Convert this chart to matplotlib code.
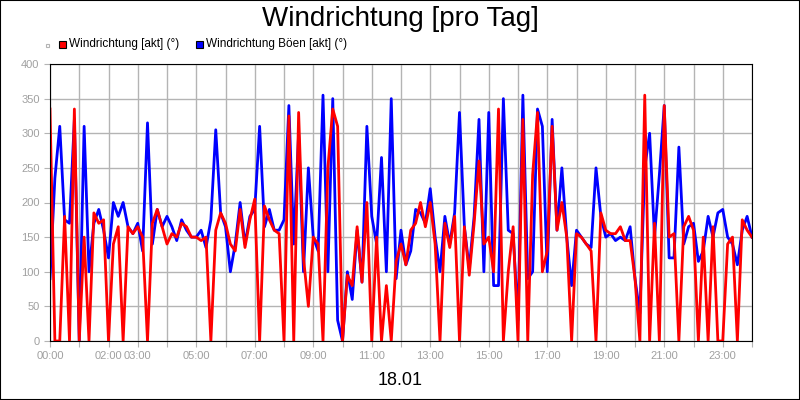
import numpy as np
import matplotlib.pyplot as plt
from matplotlib.patches import Rectangle

plt.rcParams["font.family"] = "Liberation Sans"

# 10-minute samples, 00:00 .. 24:00
wind_red = [
    335, 0, 0, 180, 0, 335,
    0, 150, 0, 185, 170, 175,
    0, 140, 165, 0, 165, 155,
    165, 150, 0, 170, 190, 165,
    140, 155, 150, 170, 165, 150,
    150, 145, 150, 0, 160, 185,
    170, 140, 130, 190, 135, 175,
    205, 0, 195, 175, 160, 155,
    0, 325, 0, 330, 120, 50,
    150, 140, 0, 250, 335, 310,
    0, 95, 80, 165, 85, 200,
    0, 150, 0, 80, 0, 115,
    140, 110, 160, 170, 200, 165,
    200, 140, 0, 170, 135, 180,
    0, 165, 95, 170, 260, 140,
    150, 100, 335, 0, 100, 165,
    0, 320, 0, 240, 330, 100,
    130, 310, 160, 200, 150, 0,
    155, 150, 140, 130, 0, 185,
    160, 155, 155, 165, 145, 145,
    90, 0, 355, 0, 170, 0,
    340, 150, 155, 0, 165, 180,
    160, 0, 150, 0, 165, 0,
    0, 140, 150, 0, 175, 160,
    150,
]
wind_blue = [
    90, 235, 310, 175, 170, 320,
    0, 310, 100, 170, 190, 160,
    120, 200, 180, 200, 165, 155,
    170, 130, 315, 140, 190, 165,
    180, 165, 145, 175, 160, 150,
    150, 160, 135, 175, 305, 185,
    165, 100, 140, 200, 140, 180,
    190, 310, 165, 190, 160, 160,
    175, 340, 140, 300, 100, 250,
    150, 130, 355, 100, 350, 30,
    0, 100, 60, 160, 85, 310,
    180, 140, 265, 100, 350, 90,
    160, 110, 130, 190, 185, 170,
    220, 150, 100, 180, 140, 185,
    330, 165, 105, 180, 320, 100,
    330, 80, 80, 350, 160, 155,
    30, 355, 90, 100, 335, 310,
    100, 320, 160, 250, 150, 80,
    160, 150, 140, 135, 250, 180,
    150, 155, 145, 150, 145, 165,
    90, 40, 250, 300, 150, 240,
    340, 120, 120, 280, 140, 165,
    170, 115, 130, 180, 150, 185,
    190, 150, 140, 110, 160, 180,
    150,
]
hours = np.arange(len(wind_red)) / 6.0
tick_hours = [0, 2, 3, 5, 7, 9, 11, 13, 15, 17, 19, 21, 23]
tick_labels = ["%02d:00" % h for h in tick_hours]

fig = plt.figure(figsize=(8, 4), dpi=100)
ax = fig.add_axes([0.0625, 0.1475, 0.8775, 0.6925])

ax.plot(hours, wind_blue, color="#0000ff", lw=2)
ax.plot(hours, wind_red, color="#ff0000", lw=2)

ax.set_xlim(0, 24)
ax.set_ylim(0, 400)
ax.set_xticks(range(25))
ax.set_xticklabels([tick_labels[tick_hours.index(h)] if h in tick_hours else "" for h in range(25)])
ax.set_yticks(range(0, 401, 50))
ax.grid(True, color="#b4b4b4", lw=1)
ax.set_axisbelow(True)
ax.tick_params(colors="#b4b4b4", labelsize=8, length=4)
ax.tick_params(axis="both", labelcolor="#a0a0a0")
for s in ax.spines.values():
    s.set_color("black")

fig.text(0.5, 0.953, "Windrichtung [pro Tag]", ha="center", va="center", fontsize=20)
fig.text(0.5, 0.048, "18.01", ha="center", va="center", fontsize=13)

# legend
fig.patches.append(Rectangle((46 / 800, 1 - 47 / 400), 3 / 800, 3 / 400, transform=fig.transFigure,
                             facecolor="white", edgecolor="#b4b4b4", lw=0.8))
fig.patches.append(Rectangle((59 / 800, 1 - 48 / 400), 7 / 800, 7 / 400, transform=fig.transFigure,
                             facecolor="#ff0000", edgecolor="black", lw=0.8))
fig.text(69 / 800, 1 - 44 / 400, "Windrichtung [akt] (°)", fontsize=8.5, va="center")
fig.patches.append(Rectangle((196 / 800, 1 - 48 / 400), 7 / 800, 7 / 400, transform=fig.transFigure,
                             facecolor="#0000ff", edgecolor="black", lw=0.8))
fig.text(206 / 800, 1 - 44 / 400, "Windrichtung Böen [akt] (°)", fontsize=8.5, va="center")

fig.patches.append(Rectangle((0, 0), 1, 1, transform=fig.transFigure, fill=False,
                             edgecolor="black", lw=1.5))
fig.savefig("out.png")
